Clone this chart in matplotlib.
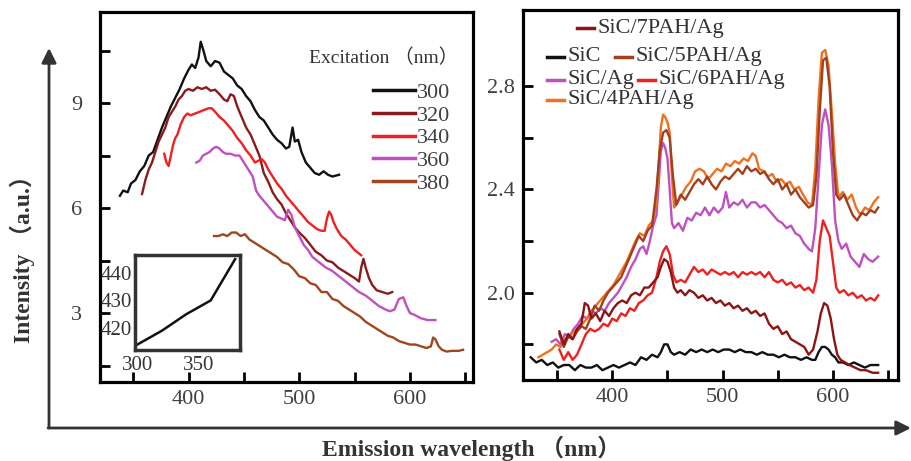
import numpy as np
import matplotlib.pyplot as plt

plt.rcParams['font.family'] = ['Liberation Serif', 'Noto Sans CJK SC', 'DejaVu Sans']

# ---- left panel: emission spectra at several excitation wavelengths ----
exc_labels = ['300', '320', '340', '360', '380']
exc_colors = ['#111111', '#8b1a1a', '#f02020', '#c050c0', '#a0461e']

x300 = [338, 341, 345, 348, 352, 356, 360, 364, 368, 372, 376, 380, 384, 388, 392, 396, 400, 403, 406, 409,
        411, 413, 416, 420, 424, 428, 432, 436, 440, 444, 448, 452, 456, 460, 464, 468, 472, 476, 480, 484,
        488, 491, 494, 496, 499, 502, 506, 510, 514, 518, 522, 526, 530, 536]
y300 = [6.35, 6.5, 6.45, 6.7, 6.8, 7.05, 7.2, 7.5, 7.6, 7.95, 8.3, 8.6, 8.9, 9.15, 9.4, 9.7, 9.95, 10.1, 10.0, 10.3,
        10.75, 10.55, 10.2, 10.05, 10.2, 10.15, 9.9, 9.8, 9.7, 9.5, 9.4, 9.2, 9.05, 8.8, 8.6, 8.5, 8.3, 8.1, 7.95, 7.85,
        7.7, 7.75, 8.3, 7.9, 7.95, 7.6, 7.3, 7.15, 7.0, 6.95, 7.05, 6.95, 6.9, 6.95]

x320 = [358, 361, 364, 367, 370, 373, 376, 379, 382, 385, 388, 391, 394, 397, 400, 404, 408, 412, 416, 420,
        424, 428, 432, 435, 438, 441, 444, 448, 452, 456, 460, 464, 468, 472, 476, 480, 484, 488, 492, 496,
        500, 505, 510, 515, 520, 525, 530, 535, 540, 545, 550, 554, 556, 558, 560, 563, 566, 570, 575, 580, 584]
y320 = [6.4, 6.8, 7.1, 7.3, 7.6, 7.9, 8.1, 8.3, 8.6, 8.75, 8.9, 9.1, 9.2, 9.35, 9.4, 9.35, 9.45, 9.4, 9.45, 9.35,
        9.38, 9.25, 9.1, 9.05, 9.25, 9.2, 8.9, 8.6, 8.3, 8.1, 7.8, 7.5, 7.0, 6.75, 6.45, 6.25, 6.1, 5.85, 5.65, 5.45,
        5.3, 5.15, 4.95, 4.75, 4.65, 4.5, 4.45, 4.3, 4.2, 4.1, 4.0, 3.9, 4.3, 4.55, 4.3, 4.0, 3.8, 3.65, 3.6, 3.55, 3.6]

x340 = [378, 380, 382, 384, 386, 388, 390, 393, 396, 399, 402, 406, 410, 414, 418, 421, 424, 428, 432, 436,
        440, 444, 448, 452, 456, 460, 463, 466, 469, 472, 476, 480, 484, 488, 492, 496, 500, 504, 508, 512,
        516, 520, 523, 525, 527, 529, 531, 534, 538, 542, 546, 550, 556]
y340 = [7.55, 7.3, 7.2, 7.5, 7.8, 8.0, 8.1, 8.4, 8.6, 8.7, 8.65, 8.7, 8.75, 8.8, 8.85, 8.85, 8.75, 8.6, 8.5, 8.35,
        8.2, 8.0, 7.85, 7.65, 7.5, 7.3, 7.35, 7.4, 7.3, 7.1, 6.9, 6.7, 6.55, 6.35, 6.2, 6.05, 5.9, 5.75, 5.6, 5.5,
        5.4, 5.35, 5.35, 5.7, 5.9, 5.8, 5.6, 5.4, 5.2, 5.1, 4.95, 4.8, 4.65]

x360 = [407, 410, 413, 416, 419, 422, 425, 428, 431, 434, 438, 442, 446, 450, 454, 458, 461, 464, 468, 472,
        476, 480, 484, 487, 490, 493, 496, 500, 504, 508, 512, 518, 524, 530, 536, 542, 548, 554, 560, 566,
        572, 578, 582, 586, 590, 594, 597, 600, 604, 610, 616, 623]
y360 = [7.3, 7.35, 7.5, 7.55, 7.6, 7.7, 7.75, 7.7, 7.6, 7.55, 7.55, 7.5, 7.5, 7.3, 7.1, 6.9, 6.5, 6.35, 6.2, 6.05,
        5.9, 5.75, 5.7, 5.65, 5.95, 5.8, 5.45, 5.2, 4.95, 4.8, 4.6, 4.45, 4.3, 4.2, 4.05, 3.9, 3.75, 3.6, 3.5, 3.35,
        3.2, 3.1, 3.05, 3.1, 3.4, 3.45, 3.2, 3.0, 2.95, 2.85, 2.8, 2.8]

x380 = [423, 427, 431, 435, 439, 443, 447, 451, 455, 460, 465, 470, 475, 480, 485, 490, 495, 500, 505, 510,
        515, 520, 525, 530, 535, 540, 545, 550, 555, 560, 565, 570, 575, 580, 585, 590, 595, 600, 605, 610,
        615, 619, 621, 623, 626, 629, 633, 638, 644, 648]
y380 = [5.2, 5.2, 5.25, 5.2, 5.3, 5.3, 5.2, 5.25, 5.1, 5.0, 4.9, 4.8, 4.7, 4.6, 4.45, 4.4, 4.25, 4.05, 4.0, 3.85,
        3.8, 3.6, 3.6, 3.4, 3.35, 3.2, 3.1, 3.0, 2.9, 2.75, 2.65, 2.55, 2.45, 2.35, 2.3, 2.2, 2.15, 2.1, 2.1, 2.05,
        2.0, 2.05, 2.3, 2.25, 2.05, 1.95, 1.9, 1.92, 1.92, 1.95]

left_x = [x300, x320, x340, x360, x380]
left_y = [y300, y320, y340, y360, y380]

# inset: emission peak vs excitation
inset_exc = [300, 320, 340, 360, 380]
inset_peak = [414, 419, 425, 430, 445]

# ---- right panel: SiC samples ----
sic_x = [326, 331, 336, 341, 346, 351, 356, 361, 366, 371, 376, 381, 386, 391, 396, 401, 406, 411, 416, 421,
         426, 431, 436, 441, 444, 447, 450, 453, 456, 461, 466, 471, 476, 481, 486, 491, 496, 501, 506, 511,
         516, 521, 526, 531, 536, 541, 546, 551, 556, 561, 566, 571, 576, 581, 584, 587, 590, 593, 596, 599,
         602, 605, 609, 614, 619, 624, 629, 634, 641]
sic_y = [1.75, 1.73, 1.74, 1.72, 1.73, 1.71, 1.72, 1.72, 1.70, 1.72, 1.71, 1.71, 1.72, 1.70, 1.71, 1.72, 1.71, 1.72, 1.73, 1.72,
         1.75, 1.74, 1.76, 1.75, 1.77, 1.80, 1.80, 1.77, 1.76, 1.77, 1.76, 1.78, 1.77, 1.78, 1.77, 1.78, 1.77, 1.78, 1.78, 1.77,
         1.78, 1.77, 1.77, 1.76, 1.77, 1.76, 1.76, 1.75, 1.76, 1.75, 1.75, 1.74, 1.75, 1.74, 1.74, 1.77, 1.79, 1.79, 1.78, 1.76,
         1.75, 1.73, 1.73, 1.72, 1.73, 1.72, 1.71, 1.72, 1.72]

p7_x = [352, 356, 360, 364, 368, 372, 375, 378, 381, 385, 389, 393, 397, 401, 405, 409, 413, 417, 421, 425,
        429, 433, 437, 441, 444, 447, 450, 453, 456, 459, 462, 466, 470, 474, 478, 482, 486, 490, 494, 498,
        502, 506, 510, 514, 518, 522, 526, 530, 534, 538, 542, 546, 550, 554, 558, 562, 566, 570, 574, 578,
        582, 586, 589, 592, 595, 598, 601, 604, 607, 611, 615, 620, 625, 630, 636, 641]
p7_y = [1.85, 1.80, 1.84, 1.82, 1.86, 1.88, 1.96, 1.95, 1.90, 1.92, 1.89, 1.93, 1.91, 1.94, 1.96, 1.97, 1.96, 1.99, 2.0, 1.99,
        2.02, 2.02, 2.04, 2.06, 2.10, 2.13, 2.12, 2.08, 2.02, 2.0, 2.01, 1.99, 2.01, 2.0, 1.98, 1.99, 1.97, 1.98, 1.96, 1.97,
        1.95, 1.96, 1.94, 1.95, 1.93, 1.94, 1.92, 1.93, 1.91, 1.92, 1.88, 1.86, 1.87, 1.84, 1.85, 1.82, 1.81, 1.80, 1.79, 1.76,
        1.78, 1.85, 1.92, 1.96, 1.95, 1.90, 1.82, 1.76, 1.74, 1.73, 1.72, 1.71, 1.70, 1.70, 1.69, 1.69]

p6_x = [352, 356, 360, 364, 368, 372, 376, 380, 384, 388, 392, 396, 400, 404, 408, 412, 416, 420, 424, 428,
        432, 436, 440, 443, 446, 449, 452, 455, 458, 462, 466, 470, 474, 478, 482, 486, 490, 494, 498, 502,
        506, 510, 514, 518, 522, 526, 530, 534, 538, 542, 546, 550, 554, 558, 562, 566, 570, 574, 578, 582,
        585, 588, 591, 594, 597, 600, 603, 606, 610, 614, 618, 622, 626, 630, 634, 638, 641]
p6_y = [1.78, 1.74, 1.77, 1.74, 1.76, 1.80, 1.84, 1.86, 1.85, 1.86, 1.88, 1.87, 1.90, 1.89, 1.92, 1.91, 1.94, 1.93, 1.96, 1.97,
        1.99, 2.0, 2.06, 2.12, 2.16, 2.18, 2.15, 2.07, 2.04, 2.05, 2.04, 2.07, 2.10, 2.08, 2.09, 2.07, 2.09, 2.08, 2.07, 2.08,
        2.07, 2.08, 2.06, 2.08, 2.07, 2.08, 2.07, 2.08, 2.06, 2.08, 2.05, 2.04, 2.05, 2.03, 2.04, 2.02, 2.03, 2.01, 2.02, 2.0,
        2.05, 2.20, 2.28, 2.25, 2.22, 2.12, 2.02, 2.00, 2.01, 1.99, 2.0, 1.98, 1.99, 1.97, 1.98, 1.97, 1.99]

ag_x = [345, 349, 353, 357, 361, 365, 369, 373, 377, 381, 385, 389, 393, 397, 401, 405, 409, 413, 417, 421,
        425, 428, 431, 434, 437, 440, 442, 444, 446, 448, 450, 452, 454, 456, 460, 464, 468, 472, 476, 480,
        484, 488, 492, 496, 500, 503, 506, 510, 514, 518, 522, 526, 530, 534, 538, 542, 546, 550, 554, 558,
        562, 566, 570, 574, 578, 581, 584, 587, 590, 593, 596, 599, 602, 605, 608, 612, 616, 620, 624, 628,
        632, 636, 641]
ag_y = [1.81, 1.82, 1.80, 1.84, 1.83, 1.86, 1.88, 1.91, 1.90, 1.93, 1.92, 1.94, 1.93, 1.96, 1.98, 2.0, 2.03, 2.06, 2.10, 2.13,
        2.17, 2.18, 2.15, 2.20, 2.26, 2.30, 2.42, 2.55, 2.58, 2.56, 2.52, 2.40, 2.27, 2.25, 2.27, 2.24, 2.29, 2.28, 2.31, 2.30,
        2.33, 2.30, 2.33, 2.31, 2.33, 2.39, 2.33, 2.35, 2.34, 2.36, 2.33, 2.35, 2.35, 2.33, 2.34, 2.32, 2.30, 2.28, 2.27, 2.25,
        2.26, 2.23, 2.22, 2.19, 2.17, 2.16, 2.25, 2.45, 2.65, 2.71, 2.65, 2.50, 2.28, 2.20, 2.17, 2.19, 2.14, 2.12, 2.10, 2.15,
        2.13, 2.12, 2.14]

p5_x = p6_x
p5_y = [1.84, 1.79, 1.83, 1.82, 1.85, 1.87, 1.86, 1.90, 1.95, 1.93, 1.97, 2.0, 2.02, 2.04, 2.06, 2.10, 2.14, 2.18, 2.22, 2.20,
        2.24, 2.26, 2.40, 2.55, 2.62, 2.63, 2.60, 2.45, 2.34, 2.38, 2.36, 2.39, 2.42, 2.44, 2.42, 2.45, 2.42, 2.40, 2.43, 2.45,
        2.44, 2.46, 2.48, 2.46, 2.49, 2.47, 2.48, 2.46, 2.47, 2.44, 2.42, 2.44, 2.40, 2.42, 2.38, 2.40, 2.37, 2.35, 2.33, 2.34,
        2.45, 2.70, 2.90, 2.91, 2.80, 2.55, 2.38, 2.36, 2.38, 2.34, 2.30, 2.28, 2.31, 2.30, 2.32, 2.31, 2.33]

p4_x = [333, 337, 341, 345, 349, 353, 357, 361, 365, 369, 373, 377, 381, 385, 389, 393, 397, 401, 405, 409,
        413, 417, 421, 425, 429, 433, 437, 440, 442, 444, 446, 448, 450, 452, 454, 456, 459, 463, 467, 471,
        475, 479, 483, 487, 491, 495, 499, 503, 507, 511, 515, 519, 523, 527, 530, 533, 537, 541, 545, 549,
        553, 557, 561, 565, 569, 573, 577, 581, 584, 587, 590, 593, 596, 599, 602, 605, 609, 613, 617, 621,
        625, 629, 633, 637, 641]
p4_y = [1.75, 1.76, 1.77, 1.78, 1.80, 1.79, 1.82, 1.83, 1.85, 1.86, 1.88, 1.90, 1.93, 1.95, 1.97, 1.99, 2.01, 2.03, 2.06, 2.09,
        2.12, 2.16, 2.20, 2.23, 2.22, 2.26, 2.28, 2.35, 2.50, 2.64, 2.69, 2.68, 2.66, 2.62, 2.45, 2.33, 2.35, 2.38, 2.41, 2.43,
        2.47, 2.48, 2.47, 2.44, 2.46, 2.48, 2.47, 2.50, 2.49, 2.51, 2.50, 2.52, 2.51, 2.54, 2.53, 2.48, 2.47, 2.45, 2.46, 2.43,
        2.44, 2.42, 2.43, 2.40, 2.41, 2.38, 2.35, 2.34, 2.48, 2.75, 2.93, 2.94, 2.88, 2.70, 2.50, 2.37, 2.39, 2.36, 2.38, 2.33,
        2.30, 2.33, 2.32, 2.35, 2.37]

right_names = ['SiC', 'SiC/Ag', 'SiC/4PAH/Ag', 'SiC/5PAH/Ag', 'SiC/6PAH/Ag', 'SiC/7PAH/Ag']
right_colors = ['#111111', '#c050c0', '#f07020', '#a0401e', '#ee2020', '#8b1515']
right_x = [sic_x, ag_x, p4_x, p5_x, p6_x, p7_x]
right_y = [sic_y, ag_y, p4_y, p5_y, p6_y, p7_y]

tick_col = '#404040'

fig = plt.figure(figsize=(9.11, 4.61), dpi=100)

# background layer for the big arrows, in pixel units
bg = fig.add_axes([0, 0, 1, 1], zorder=0)
bg.set_xlim(0, 911)
bg.set_ylim(461, 0)
bg.axis('off')
arrow = dict(arrowstyle='-|>', mutation_scale=22, lw=2, color='#333333', shrinkA=0, shrinkB=0)
bg.annotate('', xy=(49, 48), xytext=(49, 428), arrowprops=arrow)
bg.annotate('', xy=(911, 428), xytext=(48, 428), arrowprops=arrow)

fig.text(22 / 911, 1 - 253 / 461, 'Intensity （a.u.）', rotation=90, ha='center', va='center',
         fontsize=17, fontweight='bold', color='#333333')
fig.text(471 / 911, 1 - 448 / 461, 'Emission wavelength （nm）', ha='center', va='center',
         fontsize=17, fontweight='bold', color='#333333')


def style_axes(ax, ypad):
    for s in ax.spines.values():
        s.set_linewidth(2.3)
        s.set_color('black')
    ax.tick_params(direction='in', length=7, width=2, labelsize=16, labelcolor=tick_col, pad=6)
    ax.tick_params(axis='y', pad=ypad)
    ax.tick_params(axis='x', top=False)
    ax.tick_params(axis='y', right=False)
    ax.patch.set_alpha(0)


# left panel
axl = fig.add_axes([100 / 911, 1 - 382 / 461, 373 / 911, 370 / 461], zorder=2)
for xs, ys, lab, c in zip(left_x, left_y, exc_labels, exc_colors):
    axl.plot(xs, ys, color=c, lw=1.7, label=lab)
axl.set_xlim(320, 657)
axl.set_ylim(1.03, 11.6)
axl.set_xticks([350, 400, 450, 500, 550, 600, 650])
axl.set_xticklabels(['', '400', '', '500', '', '600', ''])
axl.set_yticks([1.5, 3, 4.5, 6, 7.5, 9, 10.5])
axl.set_yticklabels(['', '3', '', '6', '', '9', ''])
style_axes(axl, 13)
leg = axl.legend(loc='upper right', bbox_to_anchor=(0.94, 0.81),
                 frameon=False, fontsize=16, handlelength=1.9, handletextpad=0.1,
                 labelspacing=0.1, borderaxespad=0, borderpad=0)
for t in leg.get_texts():
    t.set_color(tick_col)
for h in leg.get_lines():
    h.set_linewidth(2.5)
fig.text(458 / 911, 1 - 58 / 461, 'Excitation （nm）', ha='right', va='center',
         fontsize=14, color='#333333')

# inset
axi = fig.add_axes([135 / 911, 1 - 350 / 461, 105 / 911, 95 / 461], zorder=3)
axi.plot(inset_exc, inset_peak, color='#111111', lw=1.8)
axi.set_xlim(298, 384)
axi.set_ylim(412, 446.5)
axi.set_xticks([300, 350])
axi.set_yticks([420, 430, 440])
for s in axi.spines.values():
    s.set_linewidth(2.5)
    s.set_color('#333333')
axi.tick_params(length=0, labelsize=15, labelcolor='#333333', pad=2)
axi.tick_params(axis='x', pad=4)
axi.set_facecolor('white')

# right panel
axr = fig.add_axes([523 / 911, 1 - 380 / 461, 375 / 911, 370 / 461], zorder=2)
for xs, ys, c in zip(right_x, right_y, right_colors):
    axr.plot(xs, ys, color=c, lw=1.7)
axr.set_xlim(319, 659)
axr.set_ylim(1.662, 3.095)
axr.set_xticks([350, 400, 450, 500, 550, 600, 650])
axr.set_xticklabels(['', '400', '', '500', '', '600', ''])
axr.set_yticks([1.8, 2.0, 2.2, 2.4, 2.6, 2.8])
axr.set_yticklabels(['', '2.0', '', '2.4', '', '2.8'])
style_axes(axr, 6)

# hand-placed legend of the right panel
leg_pos = {
    'SiC/7PAH/Ag': (0.144, 0.951),
    'SiC': (0.064, 0.873),
    'SiC/5PAH/Ag': (0.245, 0.873),
    'SiC/Ag': (0.064, 0.811),
    'SiC/6PAH/Ag': (0.307, 0.811),
    'SiC/4PAH/Ag': (0.064, 0.757),
}
for name, c in zip(right_names, right_colors):
    lx, ly = leg_pos[name]
    axr.plot([lx, lx + 0.045], [ly, ly], color=c, lw=2.5, transform=axr.transAxes)
    axr.text(lx + 0.055, ly, name, transform=axr.transAxes, fontsize=16, color='#333333',
             ha='left', va='center')

fig.savefig('out.png', dpi=100)
